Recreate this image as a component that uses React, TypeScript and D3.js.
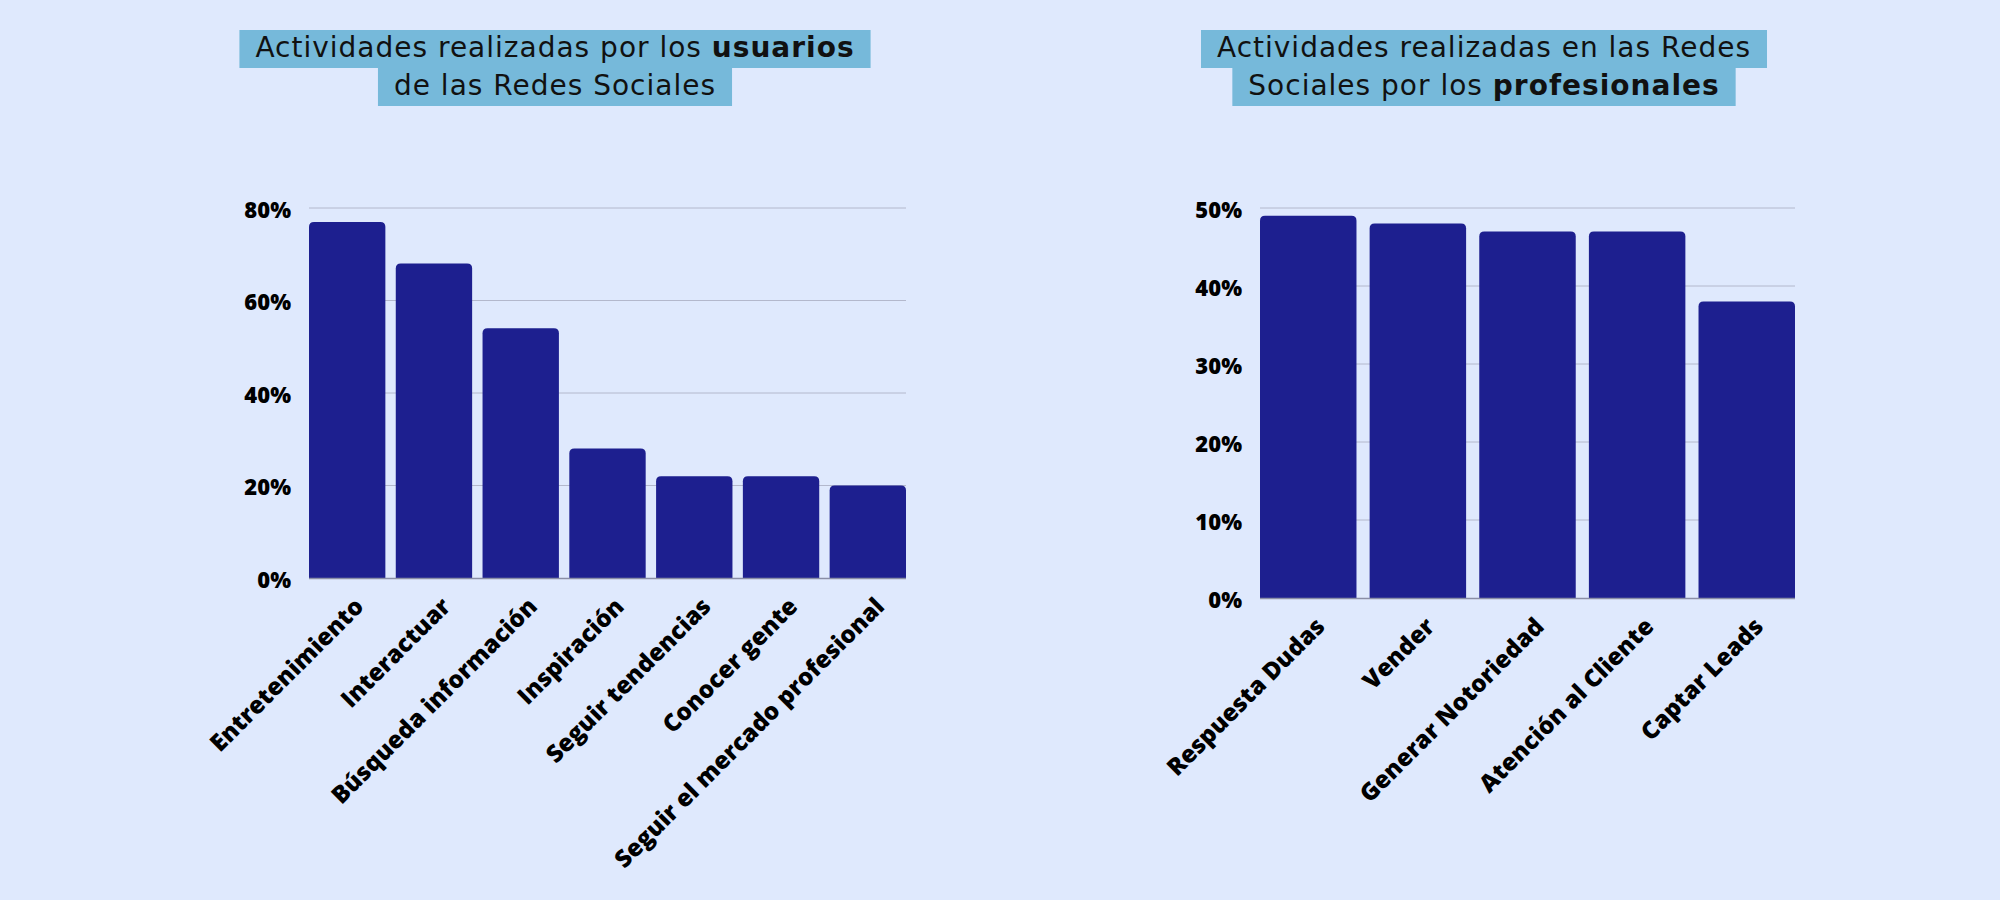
import React, { useEffect, useRef } from 'react';
import * as d3 from 'd3';

// Usuarios chart
const userCategories = [
  'Entretenimiento',
  'Interactuar',
  'Búsqueda información',
  'Inspiración',
  'Seguir tendencias',
  'Conocer gente',
  'Seguir el mercado profesional',
];
const userValues = [77, 68, 54, 28, 22, 22, 20];
const userTicks = [0, 20, 40, 60, 80];

// Profesionales chart
const proCategories = ['Respuesta Dudas', 'Vender', 'Generar Notoriedad', 'Atención al Cliente', 'Captar Leads'];
const proValues = [49, 48, 47, 47, 38];
const proTicks = [0, 10, 20, 30, 40, 50];

// title lines: [normal text, bold text]
const userTitle: [string, string][] = [
  ['Actividades realizadas por los ', 'usuarios'],
  ['de las Redes Sociales', ''],
];
const proTitle: [string, string][] = [
  ['Actividades realizadas en las Redes', ''],
  ['Sociales por los ', 'profesionales'],
];

const BG = '#dfe9fd';
const BAR = '#1d1f8f';
const TITLE_BOX = '#76b9da';
const LABEL_FONT = '"Open Sans", sans-serif';
const TITLE_FONT = '"DejaVu Sans", sans-serif';

const roundedTop = (x: number, y: number, w: number, h: number, r: number) => {
  const rr = Math.min(r, h, w / 2);
  return `M${x},${y + h}V${y + rr}Q${x},${y} ${x + rr},${y}H${x + w - rr}Q${x + w},${y} ${x + w},${y + rr}V${y + h}Z`;
};

export default function App() {
  const svgRef = useRef<SVGSVGElement>(null);

  useEffect(() => {
    if (!svgRef.current) return;
    const svg = d3.select(svgRef.current);
    svg.selectAll('*').remove();

    svg.append('rect').attr('width', 2000).attr('height', 900).attr('fill', BG);

    const drawTitle = (lines: [string, string][], cx: number, top: number) => {
      const g = svg.append('g');
      const lineH = 38;
      lines.forEach((line, i) => {
        const row = g.append('g');
        const rect = row.append('rect').attr('fill', TITLE_BOX);
        const text = row.append('text')
          .attr('x', cx)
          .attr('y', top + i * lineH + 27)
          .attr('text-anchor', 'middle')
          .style('font-family', TITLE_FONT)
          .style('font-size', '28px')
          .style('letter-spacing', '1px')
          .style('fill', '#111');
        text.append('tspan').style('font-weight', 400).text(line[0]);
        if (line[1]) text.append('tspan').style('font-weight', 700).text(line[1]);
        const bb = (text.node() as SVGTextElement).getBBox();
        rect.attr('x', bb.x - 16)
          .attr('y', top + i * lineH)
          .attr('width', bb.width + 32)
          .attr('height', lineH);
      });
    };

    const drawChart = (
      categories: string[],
      values: number[],
      ticks: number[],
      x0: number,
      x1: number,
      yTop: number,
      yBase: number,
    ) => {
      const g = svg.append('g');
      const x = d3.scaleBand().domain(categories).range([x0, x1]).paddingInner(0.12).paddingOuter(0);
      const y = d3.scaleLinear().domain([0, ticks[ticks.length - 1]]).range([yBase, yTop]);

      // gridlines
      g.selectAll('line.grid')
        .data(ticks.slice(1))
        .enter()
        .append('line')
        .attr('x1', x0)
        .attr('x2', x1)
        .attr('y1', d => y(d))
        .attr('y2', d => y(d))
        .attr('stroke', '#b3b8cc')
        .attr('stroke-width', 1);

      // y tick labels
      g.selectAll('text.ytick')
        .data(ticks)
        .enter()
        .append('text')
        .attr('x', x0 - 18)
        .attr('y', d => y(d) + 2)
        .attr('dy', '0.36em')
        .attr('text-anchor', 'end')
        .style('font-family', LABEL_FONT)
        .style('font-weight', 800)
        .style('font-size', '22px')
        .style('fill', '#000')
        .text(d => `${d}%`);

      // bars
      g.selectAll('path.bar')
        .data(categories)
        .enter()
        .append('path')
        .attr('d', (d, i) => roundedTop(x(d)!, y(values[i]), x.bandwidth(), yBase - y(values[i]), 5))
        .attr('fill', BAR);

      // baseline
      g.append('line')
        .attr('x1', x0)
        .attr('x2', x1)
        .attr('y1', yBase + 0.5)
        .attr('y2', yBase + 0.5)
        .attr('stroke', '#8a8ea6')
        .attr('stroke-width', 1.5);

      // x labels
      g.selectAll('text.xlab')
        .data(categories)
        .enter()
        .append('text')
        .attr('transform', d => `translate(${x(d)! + x.bandwidth() / 2 + 18},${yBase + 30}) rotate(-45)`)
        .attr('text-anchor', 'end')
        .style('font-family', LABEL_FONT)
        .style('font-weight', 800)
        .style('font-size', '24px')
        .style('fill', '#000')
        .text(d => d);
    };

    drawTitle(userTitle, 555, 30);
    drawTitle(proTitle, 1484, 30);
    drawChart(userCategories, userValues, userTicks, 309, 906, 208, 578);
    drawChart(proCategories, proValues, proTicks, 1260, 1795, 208, 598);
  }, []);

  return (
    <svg
      ref={svgRef}
      width={2000}
      height={900}
      style={{ position: 'fixed', left: 0, top: 0, display: 'block' }}
    />
  );
}
